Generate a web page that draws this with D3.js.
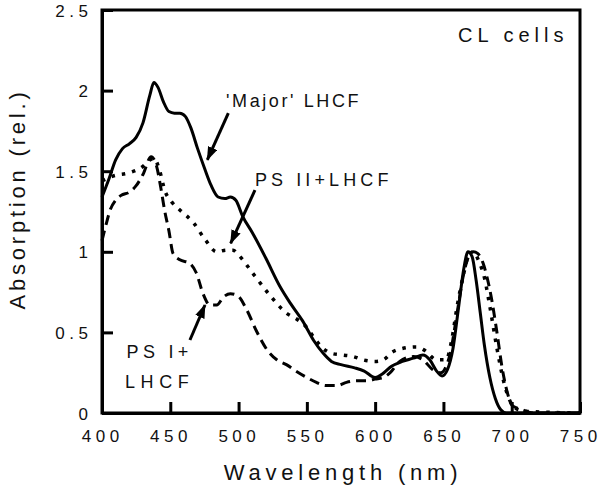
<!DOCTYPE html>
<html>
<head>
<meta charset="utf-8">
<script src="https://cdn.jsdelivr.net/npm/d3@7"></script>
<style>
  body { margin: 0; background: #fff; }
  svg { display: block; font-family: "Liberation Sans", Arial, sans-serif; }
</style>
</head>
<body>
<svg id="chart" width="598" height="487"></svg>
<script>
// absorption spectra: [wavelength nm, relative absorption]
var majorLHCF = [
    [400, 1.34], [405, 1.45], [410, 1.57], [415, 1.64], [420, 1.67], [425, 1.71],
    [430, 1.80], [435, 1.97], [438, 2.05], [441, 2.02], [445, 1.93], [449, 1.87],
    [453, 1.86], [457, 1.86], [461, 1.84], [465, 1.77], [470, 1.64], [475, 1.52],
    [480, 1.41], [485, 1.34], [490, 1.33], [494, 1.34], [498, 1.32], [503, 1.22],
    [510, 1.12], [520, 0.96], [530, 0.79], [538, 0.68], [547, 0.57], [555, 0.45],
    [562, 0.37], [568, 0.32], [575, 0.30], [585, 0.28], [592, 0.26], [600, 0.22],
    [605, 0.24], [612, 0.29], [620, 0.32], [628, 0.34], [635, 0.36], [640, 0.33],
    [645, 0.26], [649, 0.23], [653, 0.27], [657, 0.40], [661, 0.65], [665, 0.90],
    [668, 1.00], [671, 0.97], [674, 0.82], [677, 0.62], [680, 0.42], [684, 0.22],
    [688, 0.09], [692, 0.02], [696, 0.00], [720, 0.00], [750, 0.00]
];

var psIILHCF = [
    [400, 1.44], [408, 1.47], [420, 1.49], [430, 1.53], [435, 1.57], [438, 1.58],
    [442, 1.51], [446, 1.38], [451, 1.31], [457, 1.26], [467, 1.18], [476, 1.07],
    [484, 1.00], [491, 1.01], [496, 1.01], [500, 0.98], [511, 0.86], [522, 0.74],
    [535, 0.62], [543, 0.58], [550, 0.53], [555, 0.47], [562, 0.40], [568, 0.37],
    [576, 0.36], [584, 0.35], [591, 0.33], [600, 0.32], [606, 0.33], [613, 0.38],
    [620, 0.40], [630, 0.41], [636, 0.39], [645, 0.33], [652, 0.33], [656, 0.45],
    [660, 0.66], [665, 0.87], [669, 0.99], [672, 1.00], [676, 0.94], [680, 0.84],
    [684, 0.66], [689, 0.41], [694, 0.20], [699, 0.07], [705, 0.02], [712, 0.01],
    [750, 0.00]
];

var psILHCF = [
    [400, 1.07], [403, 1.17], [406, 1.26], [410, 1.32], [414, 1.35], [420, 1.37],
    [425, 1.41], [430, 1.48], [436, 1.59], [440, 1.53], [443, 1.40], [446, 1.25],
    [449, 1.13], [452, 0.99], [457, 0.95], [464, 0.93], [469, 0.87], [474, 0.74],
    [479, 0.67], [484, 0.67], [489, 0.72], [494, 0.74], [499, 0.73], [506, 0.64],
    [513, 0.51], [521, 0.39], [528, 0.33], [535, 0.30], [542, 0.26], [550, 0.22],
    [557, 0.19], [564, 0.17], [572, 0.17], [579, 0.19], [587, 0.20], [594, 0.20],
    [600, 0.21], [606, 0.22], [611, 0.25], [618, 0.32], [628, 0.35], [635, 0.33],
    [642, 0.27], [648, 0.25], [652, 0.29], [655, 0.37], [660, 0.62], [665, 0.87],
    [669, 0.98], [672, 1.00], [675, 0.99], [679, 0.93], [682, 0.84], [685, 0.72],
    [689, 0.51], [693, 0.28], [697, 0.12], [700, 0.05], [704, 0.03], [708, 0.02],
    [715, 0.00], [750, 0.00]
];

var xTicks = [400, 450, 500, 550, 600, 650, 700, 750];
var yTicks = [0, 0.5, 1, 1.5, 2, 2.5];

var xTitle = "Wavelength (nm)";
var yTitle = "Absorption (rel.)";
var panelLabel = "CL cells";

// annotation text lines: [label, wavelength, absorption] of the text start
var labelLines = [
    ["'Major' LHCF", 490.8, 1.90],
    ["PS II+LHCF", 512, 1.408],
    ["PS I+", 418, 0.341],
    ["LHCF", 416.8, 0.155]
];
var labelSpacing = [2.6, 4.1, 4.3, 5.6];
// arrows: [from wavelength, from absorption, tip wavelength, tip absorption]
var arrows = [
    [492.5, 1.86, 477.1, 1.57],
    [512, 1.383, 494.2, 1.053],
    [464.4, 0.453, 475.4, 0.67]
];

var width = 598,
    height = 487,
    margin = {top: 10, right: 18, bottom: 74, left: 102},
    innerW = width - margin.left - margin.right,
    innerH = height - margin.top - margin.bottom;

var svg = d3.select("#chart");

function spaceOut(text, ls) {
    /* letter spacing between characters only, none after the last one */
    text.each(function() {
        var t = d3.select(this),
            s = t.text();
        t.text(null);
        t.append("tspan").style("letter-spacing", ls + "px").text(s.slice(0, -1));
        t.append("tspan").style("letter-spacing", "0px").text(s.slice(-1));
    });
}

var defs = svg.append("defs");
defs.append("marker")
    .attr("id", "head")
    .attr("markerUnits", "userSpaceOnUse")
    .attr("viewBox", "0 0 14 10")
    .attr("refX", 13)
    .attr("refY", 5)
    .attr("markerWidth", 14)
    .attr("markerHeight", 10)
    .attr("orient", "auto")
  .append("path")
    .attr("d", "M0,0 L14,5 L0,10 Z")
    .attr("fill", "#000");

var g = svg.append("g").attr("transform", "translate(" + margin.left + "," + margin.top + ")");

var x = d3.scaleLinear().domain([400, 750]).range([0, innerW]);
var y = d3.scaleLinear().domain([0, 2.5]).range([innerH, 0]);

// axes, ticks pointing inwards
var xAxis = d3.axisBottom(x).tickValues(xTicks).tickSize(-11).tickSizeOuter(0).tickPadding(17).tickFormat(d3.format("d"));
var yAxis = d3.axisLeft(y).tickValues(yTicks).tickSize(-11).tickSizeOuter(0).tickPadding(14).tickFormat(d3.format(""));

var gx = g.append("g").attr("transform", "translate(0," + innerH + ")").call(xAxis);
var gy = g.append("g").call(yAxis);

[gx, gy].forEach(function(a) {
    a.selectAll("path, line").attr("stroke", "#000").attr("stroke-width", 3);
    a.selectAll("text")
        .attr("fill", "#111")
        .style("font-size", "17px")
        .call(spaceOut, 4.5);
});
gx.selectAll("text").attr("dx", -2);
gy.selectAll("text").attr("dy", "0.36em");

// frame top and right
g.append("rect")
    .attr("x", 0).attr("y", 0)
    .attr("width", innerW).attr("height", innerH)
    .attr("fill", "none")
    .attr("stroke", "#000")
    .attr("stroke-width", 3);

var line = d3.line()
    .x(function(d) { return x(d[0]); })
    .y(function(d) { return y(d[1]); })
    .curve(d3.curveMonotoneX);

var series = [
    {data: psILHCF, dash: "10,6", width: 3},
    {data: psIILHCF, dash: "3.5,7", width: 3.5},
    {data: majorLHCF, dash: null, width: 3}
];

g.selectAll(".spectrum").data(series)
    .enter()
    .append("path")
    .attr("class", "spectrum")
    .attr("d", function(d) { return line(d.data); })
    .attr("fill", "none")
    .attr("stroke", "#000")
    .attr("stroke-width", function(d) { return d.width; })
    .attr("stroke-dasharray", function(d) { return d.dash; })
    .attr("stroke-linejoin", "round");

// annotations
g.selectAll(".arrow").data(arrows)
    .enter()
    .append("line")
    .attr("class", "arrow")
    .attr("x1", function(d) { return x(d[0]); })
    .attr("y1", function(d) { return y(d[1]); })
    .attr("x2", function(d) { return x(d[2]); })
    .attr("y2", function(d) { return y(d[3]); })
    .attr("stroke", "#000")
    .attr("stroke-width", 3)
    .attr("marker-end", "url(#head)");

g.selectAll(".note").data(labelLines)
    .enter()
    .append("text")
    .attr("class", "note")
    .attr("x", function(d) { return x(d[1]); })
    .attr("y", function(d) { return y(d[2]); })
    .style("font-size", "18px")
    .style("letter-spacing", function(d, i) { return labelSpacing[i] + "px"; })
    .attr("fill", "#111")
    .text(function(d) { return d[0]; });

g.append("text")
    .attr("x", x(660.7))
    .attr("y", y(2.30))
    .style("font-size", "20px")
    .style("letter-spacing", "5px")
    .attr("fill", "#111")
    .text(panelLabel);

// axis titles
svg.append("text")
    .attr("x", margin.left + innerW / 2 + 2)
    .attr("y", 480)
    .attr("text-anchor", "middle")
    .style("font-size", "22px")
    .style("letter-spacing", "4.8px")
    .attr("fill", "#111")
    .text(xTitle);

svg.append("text")
    .attr("transform", "translate(25," + 199 + ") rotate(-90)")
    .attr("text-anchor", "middle")
    .style("font-size", "22px")
    .style("letter-spacing", "3.8px")
    .attr("fill", "#111")
    .text(yTitle);
</script>
</body>
</html>
